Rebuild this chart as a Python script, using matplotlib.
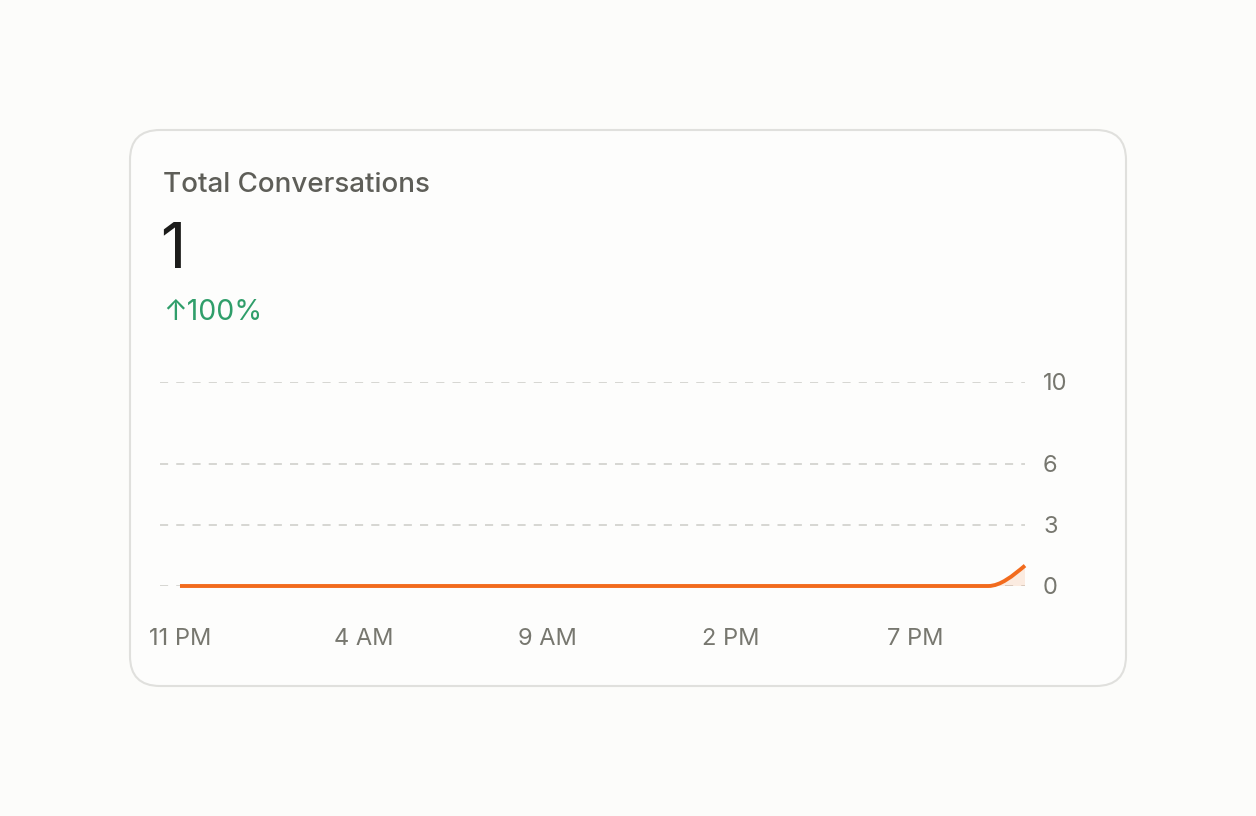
import numpy as np
import matplotlib
matplotlib.use("Agg")
import matplotlib.pyplot as plt
from matplotlib.patches import FancyBboxPatch, PathPatch
from matplotlib.path import Path

plt.rcParams['font.family'] = ['Inter', 'DejaVu Sans']

# data
hours = list(range(24))  # 11 PM .. 10 PM
conversations = [0] * 23 + [1]
xtick_pos = [0, 5, 10, 15, 20]
xtick_labels = ['11 PM', '4 AM', '9 AM', '2 PM', '7 PM']
ytick_pos = [0, 3, 6, 10]
title = 'Total Conversations'
total = '1'
change = '\u2191100%'

W, H = 1256, 816
fig = plt.figure(figsize=(W / 100, H / 100), dpi=100)
fig.patch.set_facecolor('#fcfcfa')

# background axes in pixel coords for card and header texts
bg = fig.add_axes([0, 0, 1, 1])
bg.set_xlim(0, W)
bg.set_ylim(H, 0)
bg.axis('off')
card = FancyBboxPatch((130, 130), 996, 556,
                      boxstyle='round,pad=0,rounding_size=30',
                      facecolor='#fdfdfc', edgecolor='#e0e0dd', lw=1.5)
bg.add_patch(card)
bg.text(163, 192, title, fontsize=20, color='#5e5e58', va='baseline', fontweight='medium')
bg.text(160, 268, total, fontsize=45, color='#1c1c1a', va='baseline')
bg.text(163, 320, change, fontsize=20.5, color='#2f9e6a', va='baseline')

# chart axes
ax = fig.add_axes([160 / W, 230 / H, 865 / W, 204 / H])
ax.patch.set_alpha(0)
ax.set_xlim(-0.544, 23)
ax.set_ylim(0, 10)
for s in ax.spines.values():
    s.set_visible(False)

for y in ytick_pos:
    ax.axhline(y, color='#d3d3cf', lw=1.3, ls=(0, (4.5, 4.5)), zorder=1)

# smooth monotone curve through the data (d3 curveMonotoneX style)
x = np.array(hours, dtype=float)
y = np.array(conversations, dtype=float)
h = np.diff(x)
s = np.diff(y) / h
t = np.zeros_like(y)
for i in range(1, len(y) - 1):
    if s[i - 1] * s[i] <= 0:
        t[i] = 0
    else:
        p = (s[i - 1] * h[i] + s[i] * h[i - 1]) / (h[i - 1] + h[i])
        t[i] = np.sign(s[i - 1]) * min(abs(s[i - 1]), abs(s[i]), 0.5 * abs(p))
t[0] = (3 * s[0] - t[1]) / 2 if len(y) > 2 else s[0]
t[-1] = (3 * s[-1] - t[-2]) / 2
verts = [(x[0], y[0])]
codes = [Path.MOVETO]
for i in range(len(x) - 1):
    d = h[i] / 3
    verts += [(x[i] + d, y[i] + d * t[i]), (x[i + 1] - d, y[i + 1] - d * t[i + 1]), (x[i + 1], y[i + 1])]
    codes += [Path.CURVE4] * 3
line_path = Path(verts, codes)

# fill under curve
fill_verts = verts + [(x[-1], 0), (x[0], 0), (x[0], y[0])]
fill_codes = codes + [Path.LINETO, Path.LINETO, Path.CLOSEPOLY]
ax.add_patch(PathPatch(Path(fill_verts, fill_codes), facecolor='#f26b1d', alpha=0.12,
                       edgecolor='none', zorder=2))
ax.add_patch(PathPatch(line_path, facecolor='none', edgecolor='#f26b1d', lw=2.8,
                       capstyle='butt', zorder=3, clip_on=False))

ax.yaxis.tick_right()
ax.set_yticks(ytick_pos)
ax.set_yticklabels([str(v) for v in ytick_pos])
ax.set_xticks(xtick_pos)
ax.set_xticklabels(xtick_labels)
ax.tick_params(axis='both', length=0, labelsize=17, labelcolor='#77776f')
ax.tick_params(axis='y', pad=13)
ax.tick_params(axis='x', pad=30)

fig.savefig('out.png', dpi=100, facecolor=fig.get_facecolor())
